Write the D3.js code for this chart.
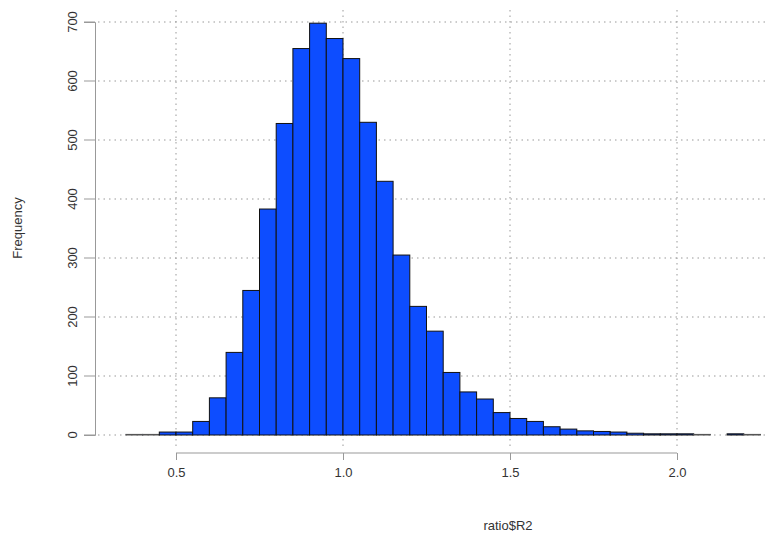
<!DOCTYPE html>
<html lang="en">
<head>
<meta charset="UTF-8">
<title>Histogram</title>
<style>
  body { margin: 0; background: #fff; }
  svg { font-family: "Liberation Sans", Arial, sans-serif; }
  .grid { stroke: #999; stroke-dasharray: 1.5 4; }
  .axis line, .axis path { stroke: #999; }
  .bar { fill: #0d4dff; stroke: #111; stroke-width: 1; }
</style>
</head>
<body>
<div id="chart"></div>
<script src="https://d3js.org/d3.v7.min.js"></script>
<script>
  const binStart = 0.35;
  const binWidth = 0.05;
  const counts = [1, 1, 5, 5, 23, 63, 140, 245, 383, 528, 655, 698, 672, 638, 530, 430,
                  305, 218, 176, 106, 73, 61, 38, 28, 23, 14, 10, 7, 6, 5, 3, 2, 2, 2, 1, 0, 2, 1];
  const xTicks = [0.5, 1.0, 1.5, 2.0];
  const yTicks = [0, 100, 200, 300, 400, 500, 600, 700];

  const width = 765, height = 539;
  const x = d3.scaleLinear().domain([0.5, 2.0]).range([176, 677]);
  const y = d3.scaleLinear().domain([0, 700]).range([435, 22]);

  const svg = d3.select('#chart').append('svg')
    .attr('width', width).attr('height', height);

  // grid
  svg.append('g').selectAll('line').data(yTicks).enter().append('line')
    .classed('grid', true)
    .attr('x1', 98).attr('x2', width)
    .attr('y1', d => y(d)).attr('y2', d => y(d));
  svg.append('g').selectAll('line').data(xTicks).enter().append('line')
    .classed('grid', true)
    .attr('x1', d => x(d)).attr('x2', d => x(d))
    .attr('y1', 10).attr('y2', 450);

  // bars
  svg.append('g').selectAll('rect').data(counts).enter().append('rect')
    .classed('bar', true)
    .attr('x', (d, i) => x(binStart + i * binWidth))
    .attr('width', x(binWidth) - x(0))
    .attr('y', d => y(d))
    .attr('height', d => y(0) - y(d))
    .style('stroke', d => d <= 1 ? '#555' : null);

  // axes
  const xAxis = svg.append('g').classed('axis', true)
    .attr('transform', 'translate(0,453)')
    .call(d3.axisBottom(x).tickValues(xTicks).tickFormat(d3.format('.1f')).tickSizeOuter(0).tickSize(7));
  xAxis.select('.domain').attr('d', `M${x(0.5)},0V0H${x(2.0)}`);
  xAxis.selectAll('text').attr('dy', '1.1em').style('font-size', '13px').attr('fill', '#333');

  const yAxis = svg.append('g').classed('axis', true)
    .attr('transform', 'translate(95,0)')
    .call(d3.axisLeft(y).tickValues(yTicks).tickSizeOuter(0).tickSize(11));
  yAxis.selectAll('text')
    .attr('transform', d => `translate(-23,${y(d)}) rotate(-90)`)
    .attr('x', 0).attr('y', 0).attr('dy', '0.35em')
    .style('text-anchor', 'middle').style('font-size', '13px').attr('fill', '#333');
  yAxis.selectAll('.tick').attr('transform', null);
  yAxis.selectAll('.tick line').attr('transform', d => `translate(0,${y(d)})`);

  svg.append('text').attr('x', 508).attr('y', 530)
    .attr('text-anchor', 'middle').style('font-size', '13px').attr('fill', '#333')
    .text('ratio$R2');
  svg.append('text').attr('transform', 'translate(22,228) rotate(-90)')
    .attr('text-anchor', 'middle').style('font-size', '13px').attr('fill', '#333')
    .text('Frequency');
</script>
</body>
</html>
